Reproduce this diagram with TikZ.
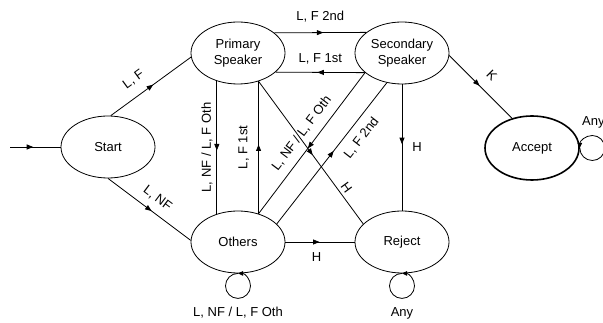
\documentclass[tikz,border=0pt]{standalone}
\usepackage{fontspec}
\setmainfont{Liberation Sans}
\usetikzlibrary{arrows.meta,decorations.markings,shapes.geometric}
\begin{document}
\begin{tikzpicture}[x=1pt,y=-1pt,
  state/.style={ellipse,draw,line width=0.8pt,minimum width=94pt,minimum height=62pt,
    inner sep=0pt,align=center,font=\fontsize{13}{16}\selectfont},
  conn/.style={line width=0.8pt,postaction={decorate},
    decoration={markings,mark=at position #1 with {\arrow[xshift=3pt]{Triangle[length=6.5pt,width=5pt]}}}},
  conn/.default=0.5,
  lbl/.style={font=\fontsize{13}{15}\selectfont,inner sep=2pt},
  loopline/.style={line width=0.8pt,-{Triangle[length=5pt,width=4.5pt]}}
]
\useasboundingbox (0,0) rectangle (603,323);

\node[state] (S) at (108,147) {Start};
\node[state] (P) at (238,53) {Primary\\Speaker};
\node[state] (Sc) at (402,53) {Secondary\\Speaker};
\node[state] (O) at (238,242) {Others};
\node[state] (R) at (402,242) {Reject};
\node[state,line width=1.6pt,minimum height=64pt] (A) at (532,148) {Accept};

\coordinate (in) at (10,147);
\draw[conn=0.4] (in) -- (S.west);

\draw[conn] (S.85) -- node[lbl,sloped,above=8pt,pos=0.4] {L, F} (P.185);
\draw[conn] (S.south) -- node[lbl,sloped,above=6pt,pos=0.5] {L, NF} (O.178);

\draw[conn] (P.29.1) -- node[lbl,above=8pt] {L, F 2nd} (Sc.150.9);
\draw[conn] (Sc.-152.9) -- node[lbl,above=6pt] {L, F 1st} (P.-27.1);

\draw[conn] (P.-127.2) -- node[lbl,rotate=90,anchor=south,yshift=2pt] {L, NF / L, F Oth} (O.127.2);
\draw[conn] (O.54.5) -- node[lbl,rotate=90,anchor=south,yshift=7pt] {L, F 1st} (P.-54.5);

\draw[conn=0.52] (Sc.-152.9) -- node[lbl,sloped,above=6pt,pos=0.49] {L, NF / L, F Oth} (O.54.5);
\draw[conn] (O.25) -- node[lbl,sloped,below=6pt,pos=0.67] {L, F 2nd} (Sc.-117);
\draw[conn] (P.-54.5) -- node[lbl,sloped,above=1pt,pos=0.78] {H} (R.155);

\draw[conn=0.45] (Sc.south) -- node[lbl,right=8pt] {H} (R.north);
\draw[conn=0.45] (O.east) -- node[lbl,below=8pt,pos=0.45] {H} (R.west);
\draw[conn=0.45] (Sc.-3) -- node[lbl,sloped,above=9pt,pos=0.5] {K} (A.124);

\draw[loopline] (O.south) arc[start angle=-90,delta angle=-360,radius=12.5];
\draw[loopline] (R.south) arc[start angle=-90,delta angle=-360,radius=12.5];
\draw[loopline] (A.east) arc[start angle=180,delta angle=-360,radius=12.5];

\node[lbl] (lo) at (238,313) {L, NF / L, F Oth};
\node[lbl] (lr) at (402,313) {Any};
\node[lbl,anchor=west] (la) at (580,122) {Any};
\end{tikzpicture}
\end{document}
